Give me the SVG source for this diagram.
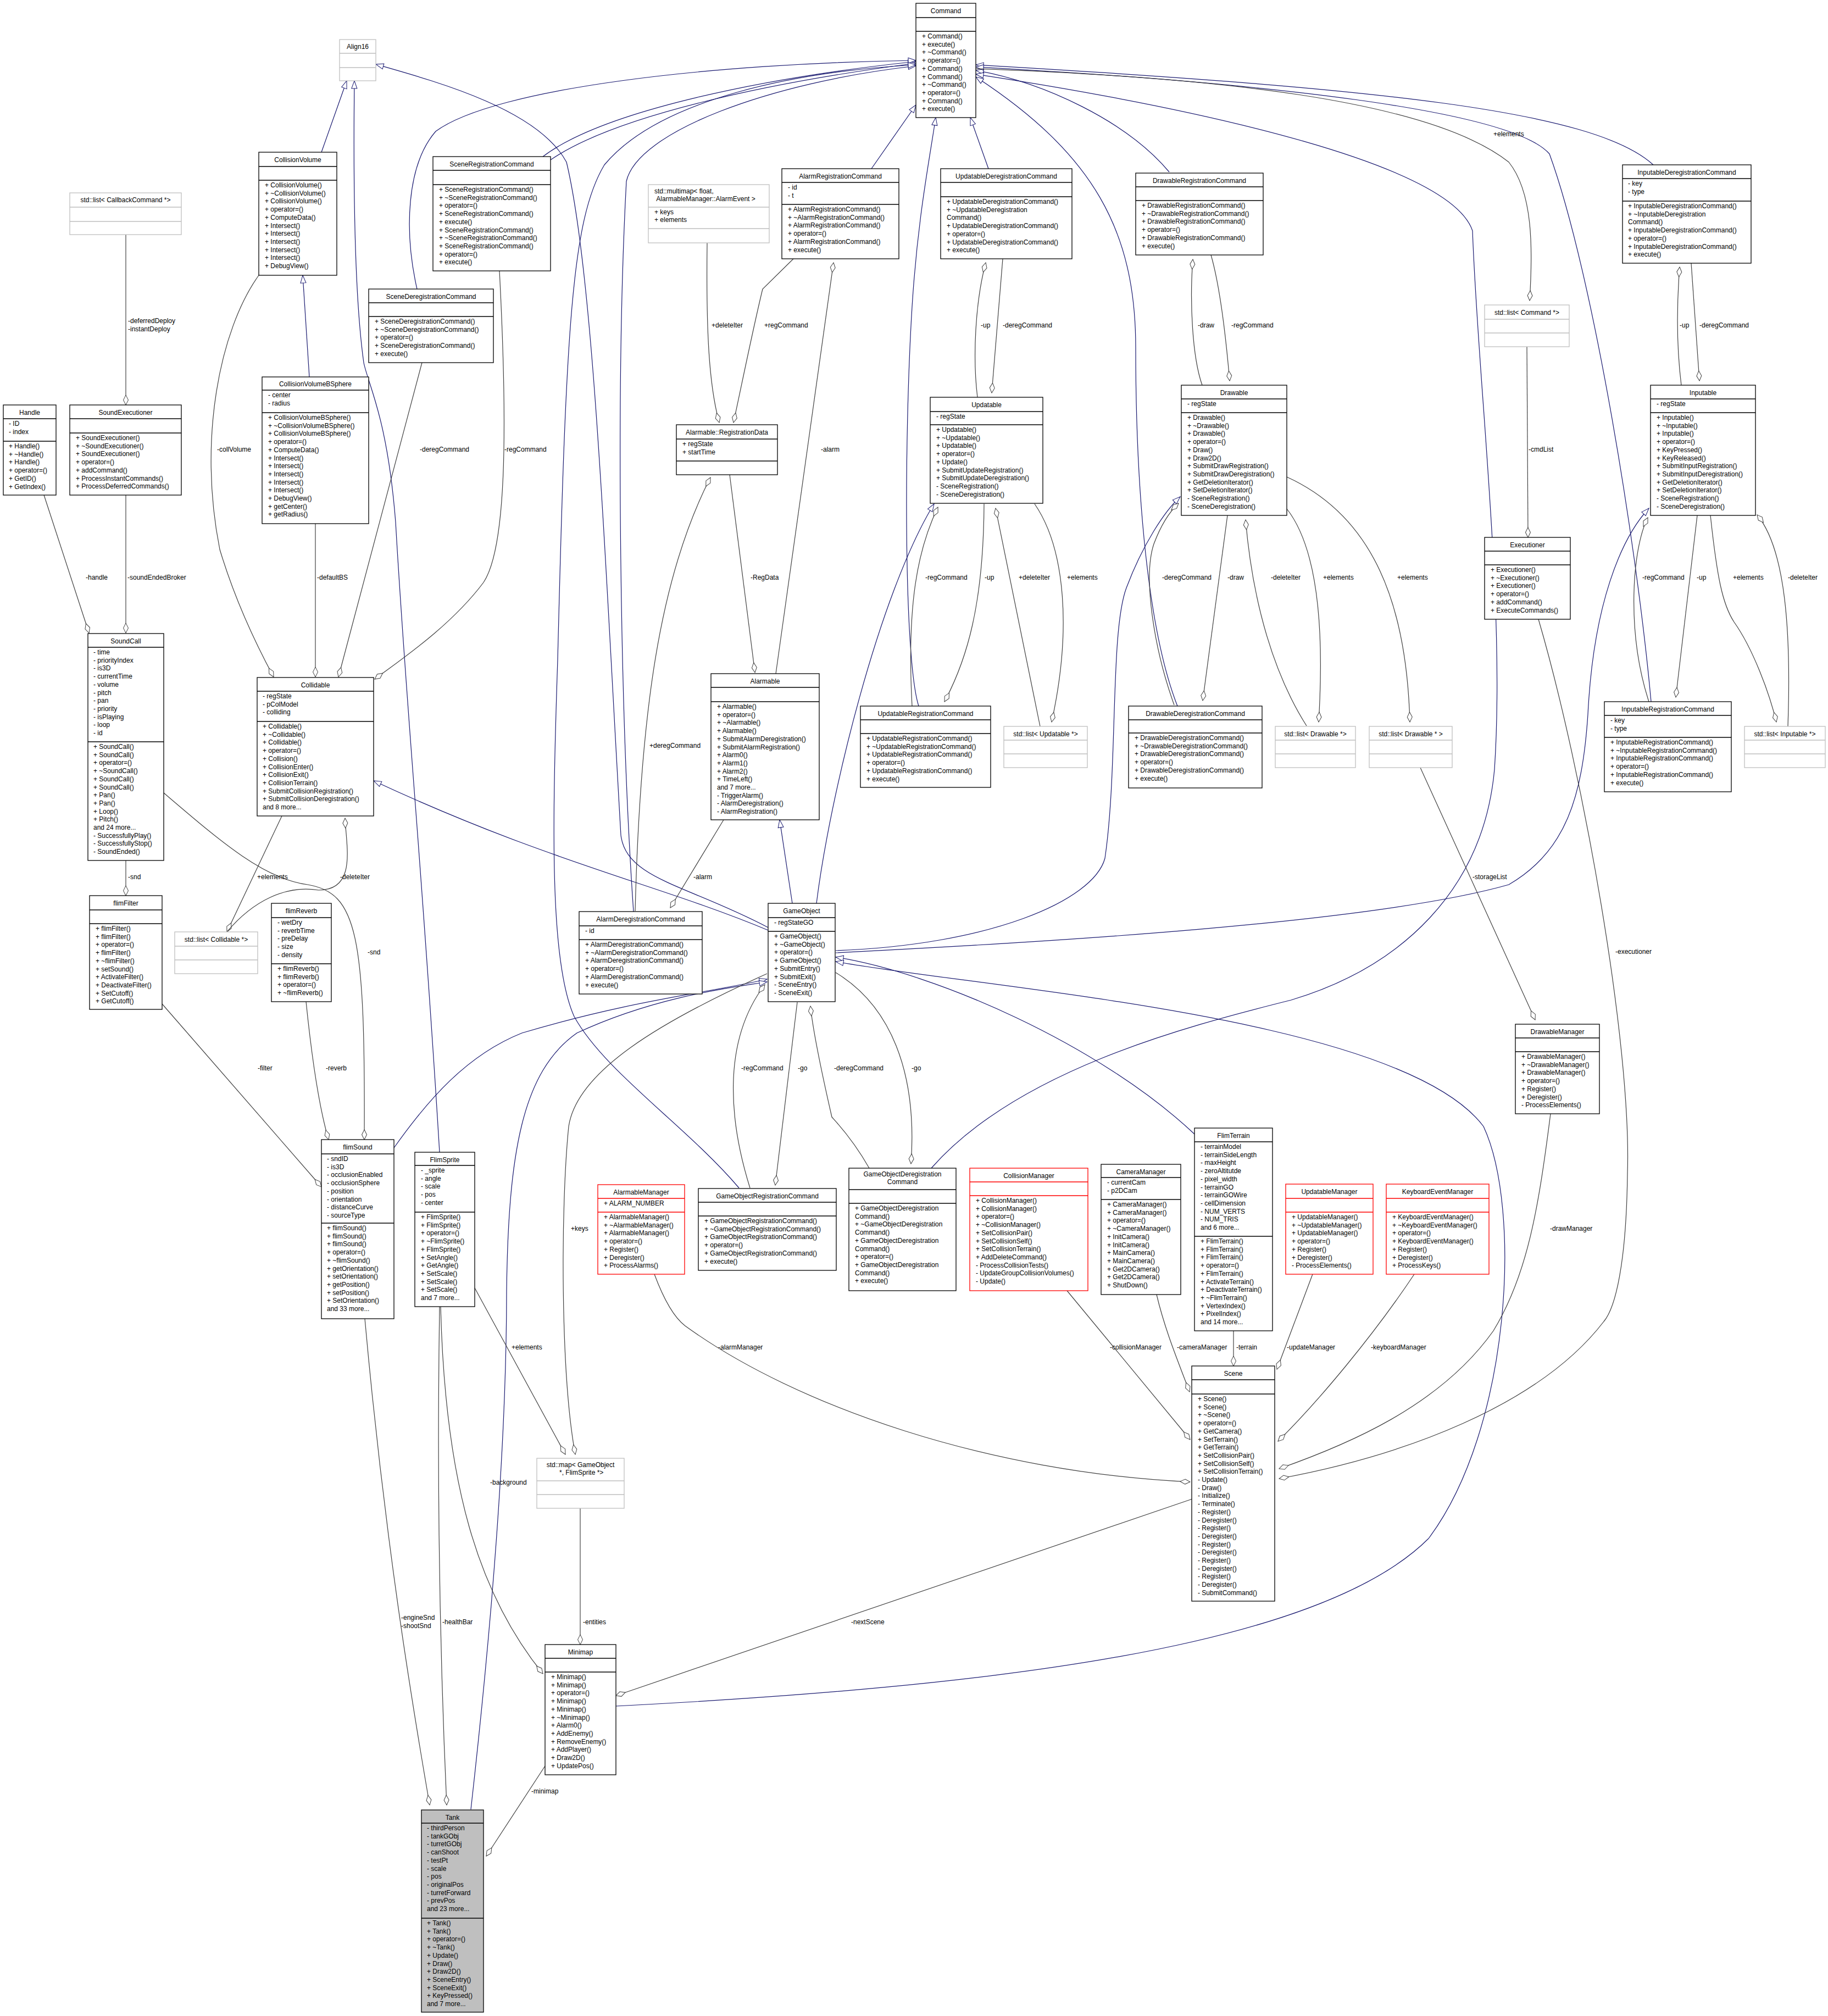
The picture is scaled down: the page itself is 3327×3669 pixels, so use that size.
<svg xmlns="http://www.w3.org/2000/svg" width="3327" height="3669" viewBox="0 0 3327 3669">
<style>
text{font-family:"Liberation Sans",Arial,sans-serif;font-size:12px;fill:#000}
.tc{text-anchor:middle}
g.k rect{fill:#fff;stroke:#000;stroke-width:1.3}
g.k path{fill:none;stroke:#000;stroke-width:1.3}
g.g rect{fill:#fff;stroke:#bfbfbf;stroke-width:1.3}
g.g path{fill:none;stroke:#bfbfbf;stroke-width:1.3}
g.r rect{fill:#fff;stroke:#ff0000;stroke-width:1.3}
g.r path{fill:none;stroke:#ff0000;stroke-width:1.3}
g.t rect{fill:#bfbfbf;stroke:#000;stroke-width:1.3}
g.t path{fill:none;stroke:#000;stroke-width:1.3}
.e{fill:none;stroke:#191970;stroke-width:1.2;marker-end:url(#tri)}
.c{fill:none;stroke:#404040;stroke-width:1.2;marker-end:url(#dia)}
</style>
<defs>
<marker id="tri" markerWidth="16" markerHeight="12" refX="15" refY="6" orient="auto" markerUnits="userSpaceOnUse"><path d="M1,1 L15,6 L1,11 Z" fill="#fff" stroke="#191970"/></marker>
<marker id="dia" markerWidth="20" markerHeight="12" refX="19" refY="6" orient="auto" markerUnits="userSpaceOnUse"><path d="M1,6 L10,1.5 L19,6 L10,10.5 Z" fill="#fff" stroke="#404040"/></marker>
</defs>
<rect width="3327" height="3669" fill="#fff"/>
<g id="edges">
<path class="e" d="M585,277 L631,147"/>
<path class="e" d="M563,686 L551,501"/>
<path class="e" d="M800,2097 C770,1600 740,1300 720,950 C705,760 670,700 662,660 C648,560 642,400 645,147"/>
<path class="e" d="M1398,1688 C1250,1610 1140,1600 1130,1520 C1100,1000 1080,500 1031,295 C980,200 800,150 684,117"/>
<path class="e" d="M1398,1693 C1200,1610 1000,1570 680,1421"/>
<path class="e" d="M1586,307 L1667,191"/>
<path class="e" d="M1799,307 L1766,214"/>
<path class="e" d="M1672,1285 C1645,1200 1645,800 1660,558 C1670,400 1690,300 1703,214"/>
<path class="e" d="M2128,313 C2050,220 1900,150 1776,128"/>
<path class="e" d="M988,285 C1100,200 1400,140 1667,112"/>
<path class="e" d="M1002,291 C1120,210 1400,150 1667,115"/>
<path class="e" d="M759,526 C735,420 740,300 793,239 C900,160 1300,115 1667,110"/>
<path class="e" d="M1153,1659 C1128,1300 1120,700 1140,330 C1160,240 1400,150 1667,120"/>
<path class="e" d="M1345,2162 C1250,2050 1100,1950 1045,1850 C1000,1750 1005,1500 1015,1200 C1030,600 1040,400 1100,300 C1200,180 1450,130 1667,118"/>
<path class="e" d="M1695,2126 C1850,1950 2150,1870 2350,1820 C2550,1760 2700,1620 2720,1400 C2740,1100 2690,700 2680,420 C2640,300 2200,200 1776,135"/>
<path class="e" d="M2143,1285 C2090,1150 2067,900 2067,633 C2067,420 1990,280 1776,140"/>
<path class="e" d="M3009,300 C2900,200 2500,160 1776,118"/>
<path class="e" d="M3005,1277 C2980,1000 2900,500 2820,280 C2750,200 2300,150 1776,122"/>
<path class="e" d="M1486,1644 C1510,1450 1600,1080 1700,917"/>
<path class="e" d="M1442,1644 L1419,1492"/>
<path class="e" d="M1521,1730 C1800,1720 1990,1640 2011,1562 C2035,1400 2020,1150 2050,1070 C2080,990 2120,930 2148,904"/>
<path class="e" d="M1521,1734 C1900,1715 2500,1680 2746,1610 C2850,1550 2880,1450 2890,1300 C2900,1100 2950,980 3001,925"/>
<path class="e" d="M717,2089 C780,2000 850,1920 950,1880 C1150,1820 1300,1805 1396,1782"/>
<path class="e" d="M857,3293 C890,3000 922,2650 922,2350 C925,2100 950,1950 1050,1880 C1200,1810 1350,1795 1396,1787"/>
<path class="e" d="M2174,2064 C2000,1900 1700,1770 1521,1742"/>
<path class="e" d="M1121,3105 C1800,3070 2400,3000 2600,2800 C2750,2600 2770,2200 2700,2050 C2550,1850 1800,1800 1521,1750"/>
<path class="c" d="M229,427 L229,737"/>
<path class="c" d="M80,901 L162,1152"/>
<path class="c" d="M229,901 L229,1152"/>
<path class="c" d="M471,501 C400,600 360,800 400,1000 C430,1100 470,1180 498,1232"/>
<path class="c" d="M574,953 L574,1232"/>
<path class="c" d="M768,660 L616,1232"/>
<path class="c" d="M909,493 C925,800 920,1000 880,1060 C820,1140 730,1200 682,1236"/>
<path class="c" d="M229,1566 L229,1630"/>
<path class="c" d="M513,1485 L413,1696"/>
<path class="c" d="M413,1696 C460,1640 520,1610 580,1620 C650,1620 630,1540 628,1489"/>
<path class="c" d="M298,1443 C400,1530 480,1600 560,1610 C650,1625 665,1700 663,2074"/>
<path class="c" d="M295,1827 L585,2160"/>
<path class="c" d="M557,1823 C570,1950 585,2030 598,2074"/>
<path class="c" d="M1444,471 L1388,526 C1370,600 1350,700 1335,769"/>
<path class="c" d="M1287,442 C1285,600 1290,700 1309,769"/>
<path class="c" d="M1412,1226 L1517,478"/>
<path class="c" d="M1328,864 L1374,1224"/>
<path class="c" d="M1156,1658 C1165,1300 1200,1050 1293,869"/>
<path class="c" d="M1317,1492 L1220,1652"/>
<path class="c" d="M1779,723 C1770,650 1775,550 1794,478"/>
<path class="c" d="M1825,471 L1805,715"/>
<path class="c" d="M1660,1285 C1650,1100 1670,1000 1707,923"/>
<path class="c" d="M1791,917 C1790,1100 1760,1200 1719,1277"/>
<path class="c" d="M1893,1322 L1812,925"/>
<path class="c" d="M1883,917 C1940,1000 1950,1150 1914,1314"/>
<path class="c" d="M2188,701 C2170,650 2165,550 2171,472"/>
<path class="c" d="M2204,464 C2220,520 2230,600 2238,693"/>
<path class="c" d="M2137,1283 C2100,1180 2080,1050 2100,990 C2115,950 2130,930 2145,916"/>
<path class="c" d="M2234,938 L2189,1275"/>
<path class="c" d="M2378,1321 C2320,1230 2280,1100 2267,946"/>
<path class="c" d="M2342,926 C2400,1000 2410,1150 2400,1314"/>
<path class="c" d="M2342,868 C2500,940 2560,1100 2566,1314"/>
<path class="c" d="M3060,701 C3050,620 3052,550 3057,486"/>
<path class="c" d="M3078,479 L3093,693"/>
<path class="c" d="M3001,1277 C2960,1150 2970,1000 2999,942"/>
<path class="c" d="M3089,938 L3050,1269"/>
<path class="c" d="M3113,938 C3125,1050 3135,1100 3156,1132 C3190,1180 3220,1260 3233,1314"/>
<path class="c" d="M3254,1322 C3260,1150 3250,1000 3198,937"/>
<path class="c" d="M1776,125 C2200,140 2600,180 2746,295 C2790,350 2790,450 2784,547"/>
<path class="c" d="M2779,631 L2781,978"/>
<path class="c" d="M2800,1127 C2880,1400 2970,1900 2962,2136 C2960,2300 2940,2380 2919,2405 C2800,2560 2550,2650 2328,2691"/>
<path class="c" d="M2585,1397 L2794,1856"/>
<path class="c" d="M2822,2027 C2800,2200 2780,2320 2718,2422 C2620,2560 2450,2630 2328,2673"/>
<path class="c" d="M2389,2319 L2324,2492"/>
<path class="c" d="M2574,2319 C2500,2430 2400,2550 2326,2623"/>
<path class="c" d="M2245,2422 L2245,2486"/>
<path class="c" d="M2105,2356 C2120,2420 2145,2480 2165,2533"/>
<path class="c" d="M1942,2349 L2166,2620"/>
<path class="c" d="M1191,2319 C1210,2370 1230,2400 1247,2413 C1450,2560 1800,2680 2166,2697"/>
<path class="c" d="M2170,2728 L1121,3086"/>
<path class="c" d="M1365,2162 C1330,2050 1310,1900 1392,1792"/>
<path class="c" d="M1451,1824 L1411,2157"/>
<path class="c" d="M1582,2126 C1550,2070 1520,2040 1514,2033 C1495,1950 1480,1880 1475,1831"/>
<path class="c" d="M1521,1770 C1620,1830 1670,1950 1658,2118"/>
<path class="c" d="M1396,1772 C1200,1860 1050,1950 1035,2050 C1020,2200 1020,2500 1047,2647"/>
<path class="c" d="M864,2344 L1029,2647"/>
<path class="c" d="M1056,2745 L1056,2993"/>
<path class="c" d="M664,2400 C700,2800 750,3100 782,3285"/>
<path class="c" d="M800,2378 C795,2700 800,3000 813,3285"/>
<path class="c" d="M802,2378 C810,2700 870,2900 988,3046"/>
<path class="c" d="M992,3214 L885,3378"/>
<text x="233" y="588">-deferredDeploy</text><text x="233" y="603">-instantDeploy</text>
<text x="156" y="1055">-handle</text><text x="232" y="1055">-soundEndedBroker</text>
<text x="395" y="822">-collVolume</text><text x="577" y="1055">-defaultBS</text>
<text x="764" y="822">-deregCommand</text><text x="918" y="822">-regCommand</text>
<text x="233" y="1600">-snd</text><text x="468" y="1600">+elements</text><text x="619" y="1600">-deleteIter</text>
<text x="669" y="1737">-snd</text><text x="469" y="1948">-filter</text><text x="593" y="1948">-reverb</text>
<text x="1295" y="596">+deleteIter</text><text x="1391" y="596">+regCommand</text>
<text x="1494" y="822">-alarm</text><text x="1366" y="1055">-RegData</text>
<text x="1182" y="1361">+deregCommand</text><text x="1262" y="1600">-alarm</text>
<text x="1785" y="596">-up</text><text x="1825" y="596">-deregCommand</text>
<text x="1684" y="1055">-regCommand</text><text x="1792" y="1055">-up</text><text x="1854" y="1055">+deleteIter</text><text x="1942" y="1055">+elements</text>
<text x="2180" y="596">-draw</text><text x="2241" y="596">-regCommand</text>
<text x="2115" y="1055">-deregCommand</text><text x="2234" y="1055">-draw</text><text x="2313" y="1055">-deleteIter</text><text x="2408" y="1055">+elements</text><text x="2543" y="1055">+elements</text>
<text x="2718" y="248">+elements</text>
<text x="3057" y="596">-up</text><text x="3093" y="596">-deregCommand</text>
<text x="2989" y="1055">-regCommand</text><text x="3088" y="1055">-up</text><text x="3154" y="1055">+elements</text><text x="3254" y="1055">-deleteIter</text>
<text x="2782" y="822">-cmdList</text><text x="2680" y="1600">-storageList</text>
<text x="2940" y="1736">-executioner</text><text x="2821" y="2240">-drawManager</text>
<text x="1039" y="2240">+keys</text>
<text x="1349" y="1948">-regCommand</text><text x="1452" y="1948">-go</text><text x="1518" y="1948">-deregCommand</text><text x="1659" y="1948">-go</text>
<text x="1307" y="2456">-alarmManager</text><text x="2020" y="2456">-collisionManager</text><text x="2142" y="2456">-cameraManager</text><text x="2250" y="2456">-terrain</text><text x="2342" y="2456">-updateManager</text><text x="2495" y="2456">-keyboardManager</text>
<text x="931" y="2456">+elements</text><text x="892" y="2702">-background</text>
<text x="730" y="2948">-engineSnd</text><text x="730" y="2963">-shootSnd</text>
<text x="805" y="2956">-healthBar</text><text x="1061" y="2956">-entities</text>
<text x="1549" y="2956">-nextScene</text><text x="967" y="3264">-minimap</text>
</g>

<g id="Align16" class="g"><rect x="618" y="72" width="66" height="75"/><path d="M618,97h66M618,123h66"/><text class="tc" x="651" y="89">Align16</text></g>

<g id="Command" class="k"><rect x="1667" y="6" width="109" height="208"/><path d="M1667,32h109M1667,57h109"/><text class="tc" x="1721.5" y="24">Command</text>
<text x="1678" y="70"><tspan x="1678" dy="0">+ Command()</tspan><tspan x="1678" dy="14.7">+ execute()</tspan><tspan x="1678" dy="14.7">+ ~Command()</tspan><tspan x="1678" dy="14.7">+ operator=()</tspan><tspan x="1678" dy="14.7">+ Command()</tspan><tspan x="1678" dy="14.7">+ Command()</tspan><tspan x="1678" dy="14.7">+ ~Command()</tspan><tspan x="1678" dy="14.7">+ operator=()</tspan><tspan x="1678" dy="14.7">+ Command()</tspan><tspan x="1678" dy="14.7">+ execute()</tspan></text></g>

<g id="CollisionVolume" class="k"><rect x="471" y="277" width="142" height="224"/><path d="M471,303h142M471,328h142"/><text class="tc" x="542" y="295">CollisionVolume</text>
<text x="482" y="341"><tspan x="482" dy="0">+ CollisionVolume()</tspan><tspan x="482" dy="14.7">+ ~CollisionVolume()</tspan><tspan x="482" dy="14.7">+ CollisionVolume()</tspan><tspan x="482" dy="14.7">+ operator=()</tspan><tspan x="482" dy="14.7">+ ComputeData()</tspan><tspan x="482" dy="14.7">+ Intersect()</tspan><tspan x="482" dy="14.7">+ Intersect()</tspan><tspan x="482" dy="14.7">+ Intersect()</tspan><tspan x="482" dy="14.7">+ Intersect()</tspan><tspan x="482" dy="14.7">+ Intersect()</tspan><tspan x="482" dy="14.7">+ DebugView()</tspan></text></g>

<g id="ListCallbackCommand" class="g"><rect x="127" y="351" width="203" height="76"/><path d="M127,377h203M127,403h203"/><text class="tc" x="228.5" y="368">std::list&lt; CallbackCommand *&gt;</text></g>

<g id="SceneRegistrationCommand" class="k"><rect x="788" y="285" width="214" height="208"/><path d="M788,310h214M788,336h214"/><text class="tc" x="895" y="303">SceneRegistrationCommand</text>
<text x="799" y="349"><tspan x="799" dy="0">+ SceneRegistrationCommand()</tspan><tspan x="799" dy="14.7">+ ~SceneRegistrationCommand()</tspan><tspan x="799" dy="14.7">+ operator=()</tspan><tspan x="799" dy="14.7">+ SceneRegistrationCommand()</tspan><tspan x="799" dy="14.7">+ execute()</tspan><tspan x="799" dy="14.7">+ SceneRegistrationCommand()</tspan><tspan x="799" dy="14.7">+ ~SceneRegistrationCommand()</tspan><tspan x="799" dy="14.7">+ SceneRegistrationCommand()</tspan><tspan x="799" dy="14.7">+ operator=()</tspan><tspan x="799" dy="14.7">+ execute()</tspan></text></g>

<g id="SceneDeregistrationCommand" class="k"><rect x="671" y="526" width="227" height="134"/><path d="M671,551h227M671,576h227"/><text class="tc" x="784.5" y="544">SceneDeregistrationCommand</text>
<text x="682" y="589"><tspan x="682" dy="0">+ SceneDeregistrationCommand()</tspan><tspan x="682" dy="14.7">+ ~SceneDeregistrationCommand()</tspan><tspan x="682" dy="14.7">+ operator=()</tspan><tspan x="682" dy="14.7">+ SceneDeregistrationCommand()</tspan><tspan x="682" dy="14.7">+ execute()</tspan></text></g>

<g id="CollisionVolumeBSphere" class="k"><rect x="477" y="686" width="194" height="267"/><path d="M477,710h194M477,751h194"/><text class="tc" x="574" y="703">CollisionVolumeBSphere</text>
<text x="488" y="723"><tspan x="488" dy="0">- center</tspan><tspan x="488" dy="14.7">- radius</tspan></text>
<text x="488" y="764"><tspan x="488" dy="0">+ CollisionVolumeBSphere()</tspan><tspan x="488" dy="14.7">+ ~CollisionVolumeBSphere()</tspan><tspan x="488" dy="14.7">+ CollisionVolumeBSphere()</tspan><tspan x="488" dy="14.7">+ operator=()</tspan><tspan x="488" dy="14.7">+ ComputeData()</tspan><tspan x="488" dy="14.7">+ Intersect()</tspan><tspan x="488" dy="14.7">+ Intersect()</tspan><tspan x="488" dy="14.7">+ Intersect()</tspan><tspan x="488" dy="14.7">+ Intersect()</tspan><tspan x="488" dy="14.7">+ Intersect()</tspan><tspan x="488" dy="14.7">+ DebugView()</tspan><tspan x="488" dy="14.7">+ getCenter()</tspan><tspan x="488" dy="14.7">+ getRadius()</tspan></text></g>

<g id="Handle" class="k"><rect x="6" y="737" width="96" height="164"/><path d="M6,762h96M6,803h96"/><text class="tc" x="54" y="755">Handle</text>
<text x="16" y="775"><tspan x="16" dy="0">- ID</tspan><tspan x="16" dy="14.7">- index</tspan></text>
<text x="16" y="816"><tspan x="16" dy="0">+ Handle()</tspan><tspan x="16" dy="14.7">+ ~Handle()</tspan><tspan x="16" dy="14.7">+ Handle()</tspan><tspan x="16" dy="14.7">+ operator=()</tspan><tspan x="16" dy="14.7">+ GetID()</tspan><tspan x="16" dy="14.7">+ GetIndex()</tspan></text></g>

<g id="SoundExecutioner" class="k"><rect x="127" y="737" width="203" height="164"/><path d="M127,762h203M127,788h203"/><text class="tc" x="228.5" y="755">SoundExecutioner</text>
<text x="138" y="801"><tspan x="138" dy="0">+ SoundExecutioner()</tspan><tspan x="138" dy="14.7">+ ~SoundExecutioner()</tspan><tspan x="138" dy="14.7">+ SoundExecutioner()</tspan><tspan x="138" dy="14.7">+ operator=()</tspan><tspan x="138" dy="14.7">+ addCommand()</tspan><tspan x="138" dy="14.7">+ ProcessInstantCommands()</tspan><tspan x="138" dy="14.7">+ ProcessDeferredCommands()</tspan></text></g>

<g id="SoundCall" class="k"><rect x="160" y="1153" width="138" height="413"/><path d="M160,1178h138M160,1350h138"/><text class="tc" x="229" y="1171">SoundCall</text>
<text x="170" y="1191"><tspan x="170" dy="0">- time</tspan><tspan x="170" dy="14.7">- priorityIndex</tspan><tspan x="170" dy="14.7">- is3D</tspan><tspan x="170" dy="14.7">- currentTime</tspan><tspan x="170" dy="14.7">- volume</tspan><tspan x="170" dy="14.7">- pitch</tspan><tspan x="170" dy="14.7">- pan</tspan><tspan x="170" dy="14.7">- priority</tspan><tspan x="170" dy="14.7">- isPlaying</tspan><tspan x="170" dy="14.7">- loop</tspan><tspan x="170" dy="14.7">- id</tspan></text>
<text x="170" y="1363"><tspan x="170" dy="0">+ SoundCall()</tspan><tspan x="170" dy="14.7">+ SoundCall()</tspan><tspan x="170" dy="14.7">+ operator=()</tspan><tspan x="170" dy="14.7">+ ~SoundCall()</tspan><tspan x="170" dy="14.7">+ SoundCall()</tspan><tspan x="170" dy="14.7">+ SoundCall()</tspan><tspan x="170" dy="14.7">+ Pan()</tspan><tspan x="170" dy="14.7">+ Pan()</tspan><tspan x="170" dy="14.7">+ Loop()</tspan><tspan x="170" dy="14.7">+ Pitch()</tspan><tspan x="170" dy="14.7">and 24 more...</tspan><tspan x="170" dy="14.7">- SuccessfullyPlay()</tspan><tspan x="170" dy="14.7">- SuccessfullyStop()</tspan><tspan x="170" dy="14.7">- SoundEnded()</tspan></text></g>

<g id="Collidable" class="k"><rect x="468" y="1233" width="212" height="252"/><path d="M468,1258h212M468,1313h212"/><text class="tc" x="574" y="1251">Collidable</text>
<text x="478" y="1271"><tspan x="478" dy="0">- regState</tspan><tspan x="478" dy="14.7">- pColModel</tspan><tspan x="478" dy="14.7">- colliding</tspan></text>
<text x="478" y="1326"><tspan x="478" dy="0">+ Collidable()</tspan><tspan x="478" dy="14.7">+ ~Collidable()</tspan><tspan x="478" dy="14.7">+ Collidable()</tspan><tspan x="478" dy="14.7">+ operator=()</tspan><tspan x="478" dy="14.7">+ Collision()</tspan><tspan x="478" dy="14.7">+ CollisionEnter()</tspan><tspan x="478" dy="14.7">+ CollisionExit()</tspan><tspan x="478" dy="14.7">+ CollisionTerrain()</tspan><tspan x="478" dy="14.7">+ SubmitCollisionRegistration()</tspan><tspan x="478" dy="14.7">+ SubmitCollisionDeregistration()</tspan><tspan x="478" dy="14.7">and 8 more...</tspan></text></g>

<g id="flimFilter" class="k"><rect x="163" y="1630" width="132" height="207"/><path d="M163,1656h132M163,1681h132"/><text class="tc" x="229" y="1648">flimFilter</text>
<text x="174" y="1694"><tspan x="174" dy="0">+ flimFilter()</tspan><tspan x="174" dy="14.7">+ flimFilter()</tspan><tspan x="174" dy="14.7">+ operator=()</tspan><tspan x="174" dy="14.7">+ flimFilter()</tspan><tspan x="174" dy="14.7">+ ~flimFilter()</tspan><tspan x="174" dy="14.7">+ setSound()</tspan><tspan x="174" dy="14.7">+ ActivateFilter()</tspan><tspan x="174" dy="14.7">+ DeactivateFilter()</tspan><tspan x="174" dy="14.7">+ SetCutoff()</tspan><tspan x="174" dy="14.7">+ GetCutoff()</tspan></text></g>

<g id="ListCollidable" class="g"><rect x="318" y="1696" width="151" height="76"/><path d="M318,1722h151M318,1747h151"/><text class="tc" x="393.5" y="1714">std::list&lt; Collidable *&gt;</text></g>

<g id="flimReverb" class="k"><rect x="494" y="1644" width="109" height="179"/><path d="M494,1670h109M494,1754h109"/><text class="tc" x="548.5" y="1662">flimReverb</text>
<text x="505" y="1683"><tspan x="505" dy="0">- wetDry</tspan><tspan x="505" dy="14.7">- reverbTime</tspan><tspan x="505" dy="14.7">- preDelay</tspan><tspan x="505" dy="14.7">- size</tspan><tspan x="505" dy="14.7">- density</tspan></text>
<text x="505" y="1767"><tspan x="505" dy="0">+ flimReverb()</tspan><tspan x="505" dy="14.7">+ flimReverb()</tspan><tspan x="505" dy="14.7">+ operator=()</tspan><tspan x="505" dy="14.7">+ ~flimReverb()</tspan></text></g>

<g id="flimSound" class="k"><rect x="585" y="2074" width="132" height="326"/><path d="M585,2100h132M585,2226h132"/><text class="tc" x="651" y="2092">flimSound</text>
<text x="595" y="2113"><tspan x="595" dy="0">- sndID</tspan><tspan x="595" dy="14.7">- is3D</tspan><tspan x="595" dy="14.7">- occlusionEnabled</tspan><tspan x="595" dy="14.7">- occlusionSphere</tspan><tspan x="595" dy="14.7">- position</tspan><tspan x="595" dy="14.7">- orientation</tspan><tspan x="595" dy="14.7">- distanceCurve</tspan><tspan x="595" dy="14.7">- sourceType</tspan></text>
<text x="595" y="2239"><tspan x="595" dy="0">+ flimSound()</tspan><tspan x="595" dy="14.7">+ flimSound()</tspan><tspan x="595" dy="14.7">+ flimSound()</tspan><tspan x="595" dy="14.7">+ operator=()</tspan><tspan x="595" dy="14.7">+ ~flimSound()</tspan><tspan x="595" dy="14.7">+ getOrientation()</tspan><tspan x="595" dy="14.7">+ setOrientation()</tspan><tspan x="595" dy="14.7">+ getPosition()</tspan><tspan x="595" dy="14.7">+ setPosition()</tspan><tspan x="595" dy="14.7">+ SetOrientation()</tspan><tspan x="595" dy="14.7">and 33 more...</tspan></text></g>

<g id="FlimSprite" class="k"><rect x="755" y="2097" width="109" height="281"/><path d="M755,2121h109M755,2206h109"/><text class="tc" x="809.5" y="2115">FlimSprite</text>
<text x="766" y="2134"><tspan x="766" dy="0">- _sprite</tspan><tspan x="766" dy="14.7">- angle</tspan><tspan x="766" dy="14.7">- scale</tspan><tspan x="766" dy="14.7">- pos</tspan><tspan x="766" dy="14.7">- center</tspan></text>
<text x="766" y="2219"><tspan x="766" dy="0">+ FlimSprite()</tspan><tspan x="766" dy="14.7">+ FlimSprite()</tspan><tspan x="766" dy="14.7">+ operator=()</tspan><tspan x="766" dy="14.7">+ ~FlimSprite()</tspan><tspan x="766" dy="14.7">+ FlimSprite()</tspan><tspan x="766" dy="14.7">+ SetAngle()</tspan><tspan x="766" dy="14.7">+ GetAngle()</tspan><tspan x="766" dy="14.7">+ SetScale()</tspan><tspan x="766" dy="14.7">+ SetScale()</tspan><tspan x="766" dy="14.7">+ SetScale()</tspan><tspan x="766" dy="14.7">and 7 more...</tspan></text></g>

<g id="AlarmRegistrationCommand" class="k"><rect x="1423" y="307" width="213" height="164"/><path d="M1423,332h213M1423,372h213"/><text class="tc" x="1529.5" y="325">AlarmRegistrationCommand</text>
<text x="1434" y="345"><tspan x="1434" dy="0">- id</tspan><tspan x="1434" dy="14.7">- t</tspan></text>
<text x="1434" y="385"><tspan x="1434" dy="0">+ AlarmRegistrationCommand()</tspan><tspan x="1434" dy="14.7">+ ~AlarmRegistrationCommand()</tspan><tspan x="1434" dy="14.7">+ AlarmRegistrationCommand()</tspan><tspan x="1434" dy="14.7">+ operator=()</tspan><tspan x="1434" dy="14.7">+ AlarmRegistrationCommand()</tspan><tspan x="1434" dy="14.7">+ execute()</tspan></text></g>

<g id="MultimapAlarmEvent" class="g"><rect x="1180" y="336" width="220" height="106"/><path d="M1180,377h220M1180,416h220"/>
<text x="1191" y="352"><tspan x="1191" dy="0">std::multimap&lt; float,</tspan><tspan x="1191" dy="14">&#160;AlarmableManager::AlarmEvent &gt;</tspan></text>
<text x="1191" y="390"><tspan x="1191" dy="0">+ keys</tspan><tspan x="1191" dy="14">+ elements</tspan></text></g>

<g id="UpdatableDeregistrationCommand" class="k"><rect x="1712" y="307" width="239" height="164"/><path d="M1712,332h239M1712,358h239"/><text class="tc" x="1831.5" y="325">UpdatableDeregistrationCommand</text>
<text x="1723" y="371"><tspan x="1723" dy="0">+ UpdatableDeregistrationCommand()</tspan><tspan x="1723" dy="14.7">+ ~UpdatableDeregistration</tspan><tspan x="1723" dy="14.7">Command()</tspan><tspan x="1723" dy="14.7">+ UpdatableDeregistrationCommand()</tspan><tspan x="1723" dy="14.7">+ operator=()</tspan><tspan x="1723" dy="14.7">+ UpdatableDeregistrationCommand()</tspan><tspan x="1723" dy="14.7">+ execute()</tspan></text></g>

<g id="DrawableRegistrationCommand" class="k"><rect x="2067" y="315" width="232" height="149"/><path d="M2067,340h232M2067,365h232"/><text class="tc" x="2183" y="333">DrawableRegistrationCommand</text>
<text x="2078" y="378"><tspan x="2078" dy="0">+ DrawableRegistrationCommand()</tspan><tspan x="2078" dy="14.7">+ ~DrawableRegistrationCommand()</tspan><tspan x="2078" dy="14.7">+ DrawableRegistrationCommand()</tspan><tspan x="2078" dy="14.7">+ operator=()</tspan><tspan x="2078" dy="14.7">+ DrawableRegistrationCommand()</tspan><tspan x="2078" dy="14.7">+ execute()</tspan></text></g>

<g id="InputableDeregistrationCommand" class="k"><rect x="2953" y="300" width="234" height="179"/><path d="M2953,325h234M2953,366h234"/><text class="tc" x="3070" y="318">InputableDeregistrationCommand</text>
<text x="2963" y="338"><tspan x="2963" dy="0">- key</tspan><tspan x="2963" dy="14.7">- type</tspan></text>
<text x="2963" y="379"><tspan x="2963" dy="0">+ InputableDeregistrationCommand()</tspan><tspan x="2963" dy="14.7">+ ~InputableDeregistration</tspan><tspan x="2963" dy="14.7">Command()</tspan><tspan x="2963" dy="14.7">+ InputableDeregistrationCommand()</tspan><tspan x="2963" dy="14.7">+ operator=()</tspan><tspan x="2963" dy="14.7">+ InputableDeregistrationCommand()</tspan><tspan x="2963" dy="14.7">+ execute()</tspan></text></g>

<g id="ListCommand" class="g"><rect x="2702" y="555" width="154" height="76"/><path d="M2702,581h154M2702,606h154"/><text class="tc" x="2779" y="573">std::list&lt; Command *&gt;</text></g>

<g id="RegistrationData" class="k"><rect x="1231" y="773" width="184" height="91"/><path d="M1231,799h184M1231,839h184"/><text class="tc" x="1323" y="791">Alarmable::RegistrationData</text>
<text x="1242" y="812"><tspan x="1242" dy="0">+ regState</tspan><tspan x="1242" dy="14.7">+ startTime</tspan></text></g>

<g id="Updatable" class="k"><rect x="1693" y="723" width="205" height="193"/><path d="M1693,749h205M1693,773h205"/><text class="tc" x="1795.5" y="741">Updatable</text>
<text x="1704" y="762">- regState</text>
<text x="1704" y="786"><tspan x="1704" dy="0">+ Updatable()</tspan><tspan x="1704" dy="14.7">+ ~Updatable()</tspan><tspan x="1704" dy="14.7">+ Updatable()</tspan><tspan x="1704" dy="14.7">+ operator=()</tspan><tspan x="1704" dy="14.7">+ Update()</tspan><tspan x="1704" dy="14.7">+ SubmitUpdateRegistration()</tspan><tspan x="1704" dy="14.7">+ SubmitUpdateDeregistration()</tspan><tspan x="1704" dy="14.7">- SceneRegistration()</tspan><tspan x="1704" dy="14.7">- SceneDeregistration()</tspan></text></g>

<g id="Drawable" class="k"><rect x="2150" y="701" width="192" height="237"/><path d="M2150,726h192M2150,751h192"/><text class="tc" x="2246" y="719">Drawable</text>
<text x="2161" y="739">- regState</text>
<text x="2161" y="764"><tspan x="2161" dy="0">+ Drawable()</tspan><tspan x="2161" dy="14.7">+ ~Drawable()</tspan><tspan x="2161" dy="14.7">+ Drawable()</tspan><tspan x="2161" dy="14.7">+ operator=()</tspan><tspan x="2161" dy="14.7">+ Draw()</tspan><tspan x="2161" dy="14.7">+ Draw2D()</tspan><tspan x="2161" dy="14.7">+ SubmitDrawRegistration()</tspan><tspan x="2161" dy="14.7">+ SubmitDrawDeregistration()</tspan><tspan x="2161" dy="14.7">+ GetDeletionIterator()</tspan><tspan x="2161" dy="14.7">+ SetDeletionIterator()</tspan><tspan x="2161" dy="14.7">- SceneRegistration()</tspan><tspan x="2161" dy="14.7">- SceneDeregistration()</tspan></text></g>

<g id="Inputable" class="k"><rect x="3004" y="701" width="191" height="237"/><path d="M3004,726h191M3004,751h191"/><text class="tc" x="3099.5" y="719">Inputable</text>
<text x="3015" y="739">- regState</text>
<text x="3015" y="764"><tspan x="3015" dy="0">+ Inputable()</tspan><tspan x="3015" dy="14.7">+ ~Inputable()</tspan><tspan x="3015" dy="14.7">+ Inputable()</tspan><tspan x="3015" dy="14.7">+ operator=()</tspan><tspan x="3015" dy="14.7">+ KeyPressed()</tspan><tspan x="3015" dy="14.7">+ KeyReleased()</tspan><tspan x="3015" dy="14.7">+ SubmitInputRegistration()</tspan><tspan x="3015" dy="14.7">+ SubmitInputDeregistration()</tspan><tspan x="3015" dy="14.7">+ GetDeletionIterator()</tspan><tspan x="3015" dy="14.7">+ SetDeletionIterator()</tspan><tspan x="3015" dy="14.7">- SceneRegistration()</tspan><tspan x="3015" dy="14.7">- SceneDeregistration()</tspan></text></g>

<g id="Executioner" class="k"><rect x="2702" y="978" width="156" height="149"/><path d="M2702,1003h156M2702,1028h156"/><text class="tc" x="2780" y="996">Executioner</text>
<text x="2713" y="1041"><tspan x="2713" dy="0">+ Executioner()</tspan><tspan x="2713" dy="14.7">+ ~Executioner()</tspan><tspan x="2713" dy="14.7">+ Executioner()</tspan><tspan x="2713" dy="14.7">+ operator=()</tspan><tspan x="2713" dy="14.7">+ addCommand()</tspan><tspan x="2713" dy="14.7">+ ExecuteCommands()</tspan></text></g>

<g id="Alarmable" class="k"><rect x="1294" y="1226" width="197" height="266"/><path d="M1294,1251h197M1294,1277h197"/><text class="tc" x="1392.5" y="1244">Alarmable</text>
<text x="1305" y="1290"><tspan x="1305" dy="0">+ Alarmable()</tspan><tspan x="1305" dy="14.7">+ operator=()</tspan><tspan x="1305" dy="14.7">+ ~Alarmable()</tspan><tspan x="1305" dy="14.7">+ Alarmable()</tspan><tspan x="1305" dy="14.7">+ SubmitAlarmDeregistration()</tspan><tspan x="1305" dy="14.7">+ SubmitAlarmRegistration()</tspan><tspan x="1305" dy="14.7">+ Alarm0()</tspan><tspan x="1305" dy="14.7">+ Alarm1()</tspan><tspan x="1305" dy="14.7">+ Alarm2()</tspan><tspan x="1305" dy="14.7">+ TimeLeft()</tspan><tspan x="1305" dy="14.7">and 7 more...</tspan><tspan x="1305" dy="14.7">- TriggerAlarm()</tspan><tspan x="1305" dy="14.7">- AlarmDeregistration()</tspan><tspan x="1305" dy="14.7">- AlarmRegistration()</tspan></text></g>

<g id="UpdatableRegistrationCommand" class="k"><rect x="1566" y="1285" width="237" height="148"/><path d="M1566,1310h237M1566,1335h237"/><text class="tc" x="1684.5" y="1303">UpdatableRegistrationCommand</text>
<text x="1577" y="1348"><tspan x="1577" dy="0">+ UpdatableRegistrationCommand()</tspan><tspan x="1577" dy="14.7">+ ~UpdatableRegistrationCommand()</tspan><tspan x="1577" dy="14.7">+ UpdatableRegistrationCommand()</tspan><tspan x="1577" dy="14.7">+ operator=()</tspan><tspan x="1577" dy="14.7">+ UpdatableRegistrationCommand()</tspan><tspan x="1577" dy="14.7">+ execute()</tspan></text></g>

<g id="ListUpdatable" class="g"><rect x="1827" y="1322" width="152" height="75"/><path d="M1827,1347h152M1827,1372h152"/><text class="tc" x="1903" y="1340">std::list&lt; Updatable *&gt;</text></g>

<g id="DrawableDeregistrationCommand" class="k"><rect x="2054" y="1285" width="243" height="149"/><path d="M2054,1310h243M2054,1334h243"/><text class="tc" x="2175.5" y="1303">DrawableDeregistrationCommand</text>
<text x="2065" y="1347"><tspan x="2065" dy="0">+ DrawableDeregistrationCommand()</tspan><tspan x="2065" dy="14.7">+ ~DrawableDeregistrationCommand()</tspan><tspan x="2065" dy="14.7">+ DrawableDeregistrationCommand()</tspan><tspan x="2065" dy="14.7">+ operator=()</tspan><tspan x="2065" dy="14.7">+ DrawableDeregistrationCommand()</tspan><tspan x="2065" dy="14.7">+ execute()</tspan></text></g>

<g id="InputableRegistrationCommand" class="k"><rect x="2920" y="1277" width="231" height="164"/><path d="M2920,1302h231M2920,1342h231"/><text class="tc" x="3035.5" y="1295">InputableRegistrationCommand</text>
<text x="2931" y="1315"><tspan x="2931" dy="0">- key</tspan><tspan x="2931" dy="14.7">- type</tspan></text>
<text x="2931" y="1355"><tspan x="2931" dy="0">+ InputableRegistrationCommand()</tspan><tspan x="2931" dy="14.7">+ ~InputableRegistrationCommand()</tspan><tspan x="2931" dy="14.7">+ InputableRegistrationCommand()</tspan><tspan x="2931" dy="14.7">+ operator=()</tspan><tspan x="2931" dy="14.7">+ InputableRegistrationCommand()</tspan><tspan x="2931" dy="14.7">+ execute()</tspan></text></g>

<g id="ListDrawable" class="g"><rect x="2321" y="1322" width="146" height="75"/><path d="M2321,1347h146M2321,1372h146"/><text class="tc" x="2394" y="1340">std::list&lt; Drawable *&gt;</text></g>
<g id="ListDrawable2" class="g"><rect x="2492" y="1322" width="151" height="75"/><path d="M2492,1347h151M2492,1372h151"/><text class="tc" x="2567.5" y="1340">std::list&lt; Drawable * &gt;</text></g>
<g id="ListInputable" class="g"><rect x="3175" y="1322" width="147" height="75"/><path d="M3175,1347h147M3175,1372h147"/><text class="tc" x="3248.5" y="1340">std::list&lt; Inputable *&gt;</text></g>

<g id="AlarmDeregistrationCommand" class="k"><rect x="1054" y="1659" width="224" height="150"/><path d="M1054,1685h224M1054,1710h224"/><text class="tc" x="1166" y="1677">AlarmDeregistrationCommand</text>
<text x="1065" y="1698">- id</text>
<text x="1065" y="1723"><tspan x="1065" dy="0">+ AlarmDeregistrationCommand()</tspan><tspan x="1065" dy="14.7">+ ~AlarmDeregistrationCommand()</tspan><tspan x="1065" dy="14.7">+ AlarmDeregistrationCommand()</tspan><tspan x="1065" dy="14.7">+ operator=()</tspan><tspan x="1065" dy="14.7">+ AlarmDeregistrationCommand()</tspan><tspan x="1065" dy="14.7">+ execute()</tspan></text></g>

<g id="GameObject" class="k"><rect x="1398" y="1644" width="122" height="179"/><path d="M1398,1670h122M1398,1695h122"/><text class="tc" x="1459" y="1662">GameObject</text>
<text x="1409" y="1683">- regStateGO</text>
<text x="1409" y="1708"><tspan x="1409" dy="0">+ GameObject()</tspan><tspan x="1409" dy="14.7">+ ~GameObject()</tspan><tspan x="1409" dy="14.7">+ operator=()</tspan><tspan x="1409" dy="14.7">+ GameObject()</tspan><tspan x="1409" dy="14.7">+ SubmitEntry()</tspan><tspan x="1409" dy="14.7">+ SubmitExit()</tspan><tspan x="1409" dy="14.7">- SceneEntry()</tspan><tspan x="1409" dy="14.7">- SceneExit()</tspan></text></g>

<g id="DrawableManager" class="k"><rect x="2758" y="1864" width="153" height="163"/><path d="M2758,1889h153M2758,1914h153"/><text class="tc" x="2834.5" y="1882">DrawableManager</text>
<text x="2769" y="1927"><tspan x="2769" dy="0">+ DrawableManager()</tspan><tspan x="2769" dy="14.7">+ ~DrawableManager()</tspan><tspan x="2769" dy="14.7">+ DrawableManager()</tspan><tspan x="2769" dy="14.7">+ operator=()</tspan><tspan x="2769" dy="14.7">+ Register()</tspan><tspan x="2769" dy="14.7">+ Deregister()</tspan><tspan x="2769" dy="14.7">- ProcessElements()</tspan></text></g>

<g id="AlarmableManager" class="r"><rect x="1088" y="2156" width="158" height="163"/><path d="M1088,2181h158M1088,2206h158"/><text class="tc" x="1167" y="2174">AlarmableManager</text>
<text x="1099" y="2194">+ ALARM_NUMBER</text>
<text x="1099" y="2219"><tspan x="1099" dy="0">+ AlarmableManager()</tspan><tspan x="1099" dy="14.7">+ ~AlarmableManager()</tspan><tspan x="1099" dy="14.7">+ AlarmableManager()</tspan><tspan x="1099" dy="14.7">+ operator=()</tspan><tspan x="1099" dy="14.7">+ Register()</tspan><tspan x="1099" dy="14.7">+ Deregister()</tspan><tspan x="1099" dy="14.7">+ ProcessAlarms()</tspan></text></g>

<g id="GameObjectRegistrationCommand" class="k"><rect x="1271" y="2163" width="251" height="149"/><path d="M1271,2188h251M1271,2213h251"/><text class="tc" x="1396.5" y="2181">GameObjectRegistrationCommand</text>
<text x="1282" y="2226"><tspan x="1282" dy="0">+ GameObjectRegistrationCommand()</tspan><tspan x="1282" dy="14.7">+ ~GameObjectRegistrationCommand()</tspan><tspan x="1282" dy="14.7">+ GameObjectRegistrationCommand()</tspan><tspan x="1282" dy="14.7">+ operator=()</tspan><tspan x="1282" dy="14.7">+ GameObjectRegistrationCommand()</tspan><tspan x="1282" dy="14.7">+ execute()</tspan></text></g>

<g id="GameObjectDeregistrationCommand" class="k"><rect x="1545" y="2126" width="195" height="223"/><path d="M1545,2165h195M1545,2190h195"/>
<text class="tc" x="1642.5" y="2141"><tspan x="1642.5" dy="0">GameObjectDeregistration</tspan><tspan x="1642.5" dy="14">Command</tspan></text>
<text x="1556" y="2203"><tspan x="1556" dy="0">+ GameObjectDeregistration</tspan><tspan x="1556" dy="14.7">Command()</tspan><tspan x="1556" dy="14.7">+ ~GameObjectDeregistration</tspan><tspan x="1556" dy="14.7">Command()</tspan><tspan x="1556" dy="14.7">+ GameObjectDeregistration</tspan><tspan x="1556" dy="14.7">Command()</tspan><tspan x="1556" dy="14.7">+ operator=()</tspan><tspan x="1556" dy="14.7">+ GameObjectDeregistration</tspan><tspan x="1556" dy="14.7">Command()</tspan><tspan x="1556" dy="14.7">+ execute()</tspan></text></g>

<g id="CollisionManager" class="r"><rect x="1765" y="2126" width="215" height="223"/><path d="M1765,2151h215M1765,2176h215"/><text class="tc" x="1872.5" y="2144">CollisionManager</text>
<text x="1776" y="2189"><tspan x="1776" dy="0">+ CollisionManager()</tspan><tspan x="1776" dy="14.7">+ CollisionManager()</tspan><tspan x="1776" dy="14.7">+ operator=()</tspan><tspan x="1776" dy="14.7">+ ~CollisionManager()</tspan><tspan x="1776" dy="14.7">+ SetCollisionPair()</tspan><tspan x="1776" dy="14.7">+ SetCollisionSelf()</tspan><tspan x="1776" dy="14.7">+ SetCollisionTerrain()</tspan><tspan x="1776" dy="14.7">+ AddDeleteCommand()</tspan><tspan x="1776" dy="14.7">- ProcessCollisionTests()</tspan><tspan x="1776" dy="14.7">- UpdateGroupCollisionVolumes()</tspan><tspan x="1776" dy="14.7">- Update()</tspan></text></g>

<g id="CameraManager" class="k"><rect x="2004" y="2119" width="145" height="237"/><path d="M2004,2143h145M2004,2183h145"/><text class="tc" x="2076.5" y="2137">CameraManager</text>
<text x="2015" y="2156"><tspan x="2015" dy="0">- currentCam</tspan><tspan x="2015" dy="14.7">- p2DCam</tspan></text>
<text x="2015" y="2196"><tspan x="2015" dy="0">+ CameraManager()</tspan><tspan x="2015" dy="14.7">+ CameraManager()</tspan><tspan x="2015" dy="14.7">+ operator=()</tspan><tspan x="2015" dy="14.7">+ ~CameraManager()</tspan><tspan x="2015" dy="14.7">+ InitCamera()</tspan><tspan x="2015" dy="14.7">+ InitCamera()</tspan><tspan x="2015" dy="14.7">+ MainCamera()</tspan><tspan x="2015" dy="14.7">+ MainCamera()</tspan><tspan x="2015" dy="14.7">+ Get2DCamera()</tspan><tspan x="2015" dy="14.7">+ Get2DCamera()</tspan><tspan x="2015" dy="14.7">+ ShutDown()</tspan></text></g>

<g id="FlimTerrain" class="k"><rect x="2174" y="2053" width="142" height="369"/><path d="M2174,2078h142M2174,2250h142"/><text class="tc" x="2245" y="2071">FlimTerrain</text>
<text x="2185" y="2091"><tspan x="2185" dy="0">- terrainModel</tspan><tspan x="2185" dy="14.7">- terrainSideLength</tspan><tspan x="2185" dy="14.7">- maxHeight</tspan><tspan x="2185" dy="14.7">- zeroAltitutde</tspan><tspan x="2185" dy="14.7">- pixel_width</tspan><tspan x="2185" dy="14.7">- terrainGO</tspan><tspan x="2185" dy="14.7">- terrainGOWire</tspan><tspan x="2185" dy="14.7">- cellDimension</tspan><tspan x="2185" dy="14.7">- NUM_VERTS</tspan><tspan x="2185" dy="14.7">- NUM_TRIS</tspan><tspan x="2185" dy="14.7">and 6 more...</tspan></text>
<text x="2185" y="2263"><tspan x="2185" dy="0">+ FlimTerrain()</tspan><tspan x="2185" dy="14.7">+ FlimTerrain()</tspan><tspan x="2185" dy="14.7">+ FlimTerrain()</tspan><tspan x="2185" dy="14.7">+ operator=()</tspan><tspan x="2185" dy="14.7">+ FlimTerrain()</tspan><tspan x="2185" dy="14.7">+ ActivateTerrain()</tspan><tspan x="2185" dy="14.7">+ DeactivateTerrain()</tspan><tspan x="2185" dy="14.7">+ ~FlimTerrain()</tspan><tspan x="2185" dy="14.7">+ VertexIndex()</tspan><tspan x="2185" dy="14.7">+ PixelIndex()</tspan><tspan x="2185" dy="14.7">and 14 more...</tspan></text></g>

<g id="UpdatableManager" class="r"><rect x="2340" y="2155" width="159" height="164"/><path d="M2340,2181h159M2340,2206h159"/><text class="tc" x="2419.5" y="2173">UpdatableManager</text>
<text x="2351" y="2219"><tspan x="2351" dy="0">+ UpdatableManager()</tspan><tspan x="2351" dy="14.7">+ ~UpdatableManager()</tspan><tspan x="2351" dy="14.7">+ UpdatableManager()</tspan><tspan x="2351" dy="14.7">+ operator=()</tspan><tspan x="2351" dy="14.7">+ Register()</tspan><tspan x="2351" dy="14.7">+ Deregister()</tspan><tspan x="2351" dy="14.7">- ProcessElements()</tspan></text></g>

<g id="KeyboardEventManager" class="r"><rect x="2523" y="2155" width="187" height="164"/><path d="M2523,2181h187M2523,2206h187"/><text class="tc" x="2616.5" y="2173">KeyboardEventManager</text>
<text x="2534" y="2219"><tspan x="2534" dy="0">+ KeyboardEventManager()</tspan><tspan x="2534" dy="14.7">+ ~KeyboardEventManager()</tspan><tspan x="2534" dy="14.7">+ operator=()</tspan><tspan x="2534" dy="14.7">+ KeyboardEventManager()</tspan><tspan x="2534" dy="14.7">+ Register()</tspan><tspan x="2534" dy="14.7">+ Deregister()</tspan><tspan x="2534" dy="14.7">+ ProcessKeys()</tspan></text></g>

<g id="Scene" class="k"><rect x="2169" y="2486" width="151" height="428"/><path d="M2169,2511h151M2169,2537h151"/><text class="tc" x="2244.5" y="2504">Scene</text>
<text x="2180" y="2550"><tspan x="2180" dy="0">+ Scene()</tspan><tspan x="2180" dy="14.7">+ Scene()</tspan><tspan x="2180" dy="14.7">+ ~Scene()</tspan><tspan x="2180" dy="14.7">+ operator=()</tspan><tspan x="2180" dy="14.7">+ GetCamera()</tspan><tspan x="2180" dy="14.7">+ SetTerrain()</tspan><tspan x="2180" dy="14.7">+ GetTerrain()</tspan><tspan x="2180" dy="14.7">+ SetCollisionPair()</tspan><tspan x="2180" dy="14.7">+ SetCollisionSelf()</tspan><tspan x="2180" dy="14.7">+ SetCollisionTerrain()</tspan><tspan x="2180" dy="14.7">- Update()</tspan><tspan x="2180" dy="14.7">- Draw()</tspan><tspan x="2180" dy="14.7">- Initialize()</tspan><tspan x="2180" dy="14.7">- Terminate()</tspan><tspan x="2180" dy="14.7">- Register()</tspan><tspan x="2180" dy="14.7">- Deregister()</tspan><tspan x="2180" dy="14.7">- Register()</tspan><tspan x="2180" dy="14.7">- Deregister()</tspan><tspan x="2180" dy="14.7">- Register()</tspan><tspan x="2180" dy="14.7">- Deregister()</tspan><tspan x="2180" dy="14.7">- Register()</tspan><tspan x="2180" dy="14.7">- Deregister()</tspan><tspan x="2180" dy="14.7">- Register()</tspan><tspan x="2180" dy="14.7">- Deregister()</tspan><tspan x="2180" dy="14.7">- SubmitCommand()</tspan></text></g>

<g id="MapGameObjectFlimSprite" class="g"><rect x="977" y="2654" width="159" height="91"/><path d="M977,2695h159M977,2720h159"/>
<text class="tc" x="1056.5" y="2670"><tspan x="1056.5" dy="0">std::map&lt; GameObject</tspan><tspan x="1056.5" dy="14"> *, FlimSprite *&gt;</tspan></text></g>

<g id="Minimap" class="k"><rect x="992" y="2993" width="129" height="237"/><path d="M992,3018h129M992,3043h129"/><text class="tc" x="1056.5" y="3011">Minimap</text>
<text x="1003" y="3056"><tspan x="1003" dy="0">+ Minimap()</tspan><tspan x="1003" dy="14.7">+ Minimap()</tspan><tspan x="1003" dy="14.7">+ operator=()</tspan><tspan x="1003" dy="14.7">+ Minimap()</tspan><tspan x="1003" dy="14.7">+ Minimap()</tspan><tspan x="1003" dy="14.7">+ ~Minimap()</tspan><tspan x="1003" dy="14.7">+ Alarm0()</tspan><tspan x="1003" dy="14.7">+ AddEnemy()</tspan><tspan x="1003" dy="14.7">+ RemoveEnemy()</tspan><tspan x="1003" dy="14.7">+ AddPlayer()</tspan><tspan x="1003" dy="14.7">+ Draw2D()</tspan><tspan x="1003" dy="14.7">+ UpdatePos()</tspan></text></g>

<g id="Tank" class="t"><rect x="767" y="3294" width="113" height="368"/><path d="M767,3318h113M767,3491h113"/><text class="tc" x="823.5" y="3312">Tank</text>
<text x="777" y="3331"><tspan x="777" dy="0">- thirdPerson</tspan><tspan x="777" dy="14.7">- tankGObj</tspan><tspan x="777" dy="14.7">- turretGObj</tspan><tspan x="777" dy="14.7">- canShoot</tspan><tspan x="777" dy="14.7">- testPt</tspan><tspan x="777" dy="14.7">- scale</tspan><tspan x="777" dy="14.7">- pos</tspan><tspan x="777" dy="14.7">- originalPos</tspan><tspan x="777" dy="14.7">- turretForward</tspan><tspan x="777" dy="14.7">- prevPos</tspan><tspan x="777" dy="14.7">and 23 more...</tspan></text>
<text x="777" y="3504"><tspan x="777" dy="0">+ Tank()</tspan><tspan x="777" dy="14.7">+ Tank()</tspan><tspan x="777" dy="14.7">+ operator=()</tspan><tspan x="777" dy="14.7">+ ~Tank()</tspan><tspan x="777" dy="14.7">+ Update()</tspan><tspan x="777" dy="14.7">+ Draw()</tspan><tspan x="777" dy="14.7">+ Draw2D()</tspan><tspan x="777" dy="14.7">+ SceneEntry()</tspan><tspan x="777" dy="14.7">+ SceneExit()</tspan><tspan x="777" dy="14.7">+ KeyPressed()</tspan><tspan x="777" dy="14.7">and 7 more...</tspan></text></g>
</svg>
